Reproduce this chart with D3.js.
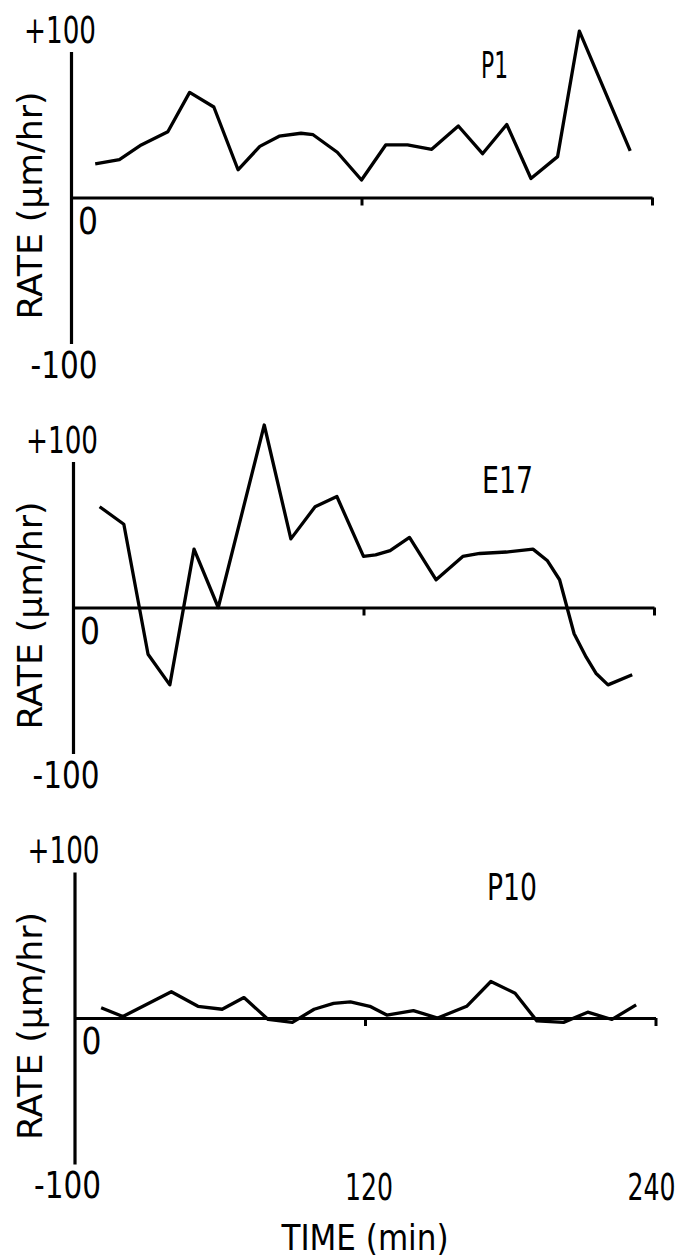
<!DOCTYPE html>
<html>
<head>
<meta charset="utf-8">
<script src="https://cdn.jsdelivr.net/npm/d3@7"></script>
<style>
  body { margin: 0; background: #fff; }
  text { font-family: "Liberation Sans Narrow", "DejaVu Sans Condensed", "Roboto Condensed", "Liberation Sans", sans-serif; fill: #000; }
</style>
</head>
<body>
<div id="chart"></div>
<script>
// values: time in min, rate in um/hr
var panelNames = ["P1", "E17", "P10"];

var p1Time = [10, 20, 29, 40, 49, 59, 69, 78, 86, 95, 100, 110, 120, 130, 139, 149, 160, 170, 180, 190, 201, 210, 231];
var p1Rate = [23, 26, 36, 45, 72, 62, 19, 35, 42, 44, 43, 31, 12, 36, 36, 33, 49, 30, 50, 13, 28, 114, 32];

var e17Time = [11, 21, 31, 40, 50, 60, 79, 90, 100, 109, 120, 125, 131, 139, 150, 161, 168, 179, 190, 196, 201, 207, 212, 216, 221, 231];
var e17Rate = [69, 57, -32, -53, 40, 0, 125, 47, 69, 76, 35, 36, 39, 48, 19, 35, 37, 38, 40, 32, 19, -18, -34, -45, -53, -46];

var p10Time = [11, 20, 40, 51, 61, 70, 80, 90, 99, 107, 114, 122, 129, 140, 150, 162, 172, 182, 191, 202, 212, 222, 232];
var p10Rate = [7, 1, 18, 8, 6, 14, -1, -3, 6, 10, 11, 8, 2, 5, 0, 8, 25, 17, -2, -3, 4, -1, 9];

var xTicks = [120, 240];
var yTickLabels = ["+100", "-100"];

var width = 692, height = 1258;

var svg = d3.select("#chart")
  .append("svg")
  .attr("width", width)
  .attr("height", height);

svg.append("rect")
  .attr("width", width)
  .attr("height", height)
  .attr("fill", "white");

var panels = [
  { name: panelNames[0], time: p1Time, rate: p1Rate },
  { name: panelNames[1], time: e17Time, rate: e17Rate },
  { name: panelNames[2], time: p10Time, rate: p10Rate }
];

// where each panel sits
var left = [71, 73, 74.5],
    zero = [197.5, 607.5, 1018],
    nameX = [494.5, 507.5, 512],
    nameDy = [-119.5, -114.5, -118],
    nameW = [27, 51, 50],
    xLabelDx = [4, -4];

panels.forEach(function (p, i) {
  var x = d3.scaleLinear().domain([0, 240]).range([left[i], left[i] + 581]);
  var y = d3.scaleLinear().domain([-100, 100]).range([zero[i] + 146, zero[i] - 146]);

  var g = svg.append("g");

  // y axis: plain vertical line
  g.append("g")
    .attr("transform", "translate(" + left[i] + ",0)")
    .call(d3.axisLeft(y).tickValues([]).tickSizeOuter(0))
    .call(function (a) { a.select(".domain").attr("stroke-width", 3.2); });

  // x axis at rate 0, ticks hang down
  g.append("g")
    .attr("transform", "translate(0," + y(0) + ")")
    .call(d3.axisBottom(x).tickValues(xTicks).tickSize(8).tickSizeOuter(0).tickFormat(""))
    .call(function (a) {
      a.select(".domain").attr("stroke-width", 3.2);
      a.selectAll(".tick line").attr("stroke-width", 3);
    });

  // the trace
  var line = d3.line()
    .x(function (d, j) { return x(p.time[j]); })
    .y(function (d) { return y(d); });

  g.append("path")
    .datum(p.rate)
    .attr("fill", "none")
    .attr("stroke", "black")
    .attr("stroke-width", 3.3)
    .attr("stroke-linejoin", "round")
    .attr("d", line);

  // labels
  g.append("text").text(yTickLabels[0])
    .attr("x", left[i] - 11).attr("y", y(0) - 155)
    .attr("text-anchor", "middle")
    .attr("font-size", "37px")
    .attr("textLength", 72).attr("lengthAdjust", "spacingAndGlyphs");

  g.append("text").text(yTickLabels[1])
    .attr("x", left[i] - 7).attr("y", y(0) + 180)
    .attr("text-anchor", "middle")
    .attr("font-size", "37px")
    .attr("textLength", 67).attr("lengthAdjust", "spacingAndGlyphs");

  g.append("text").text("0")
    .attr("x", left[i] + 17).attr("y", y(0) + 36)
    .attr("text-anchor", "middle")
    .attr("font-size", "37px")
    .attr("textLength", 20).attr("lengthAdjust", "spacingAndGlyphs");

  g.append("text").text("RATE (\u00b5m/hr)")
    .attr("transform", "translate(42," + (y(0) + 8) + ") rotate(-90)")
    .attr("text-anchor", "middle")
    .attr("font-size", "33px")
    .attr("textLength", 228).attr("lengthAdjust", "spacingAndGlyphs");

  g.append("text").text(p.name)
    .attr("x", nameX[i]).attr("y", y(0) + nameDy[i])
    .attr("text-anchor", "middle")
    .attr("font-size", "37px")
    .attr("textLength", nameW[i]).attr("lengthAdjust", "spacingAndGlyphs");

  // time labels only under the last panel
  if (i === panels.length - 1) {
    g.selectAll(".xlab")
      .data(xTicks)
      .enter().append("text")
      .attr("class", "xlab")
      .attr("x", function (d, j) { return x(d) + xLabelDx[j]; })
      .attr("y", y(0) + 182)
      .attr("text-anchor", "middle")
      .attr("font-size", "37px")
      .attr("textLength", 48).attr("lengthAdjust", "spacingAndGlyphs")
      .text(function (d) { return d; });

    g.append("text").text("TIME (min)")
      .attr("x", x(120)).attr("y", y(0) + 232)
      .attr("text-anchor", "middle")
      .attr("font-size", "35px")
      .attr("textLength", 167).attr("lengthAdjust", "spacingAndGlyphs");
  }
});
</script>
</body>
</html>
